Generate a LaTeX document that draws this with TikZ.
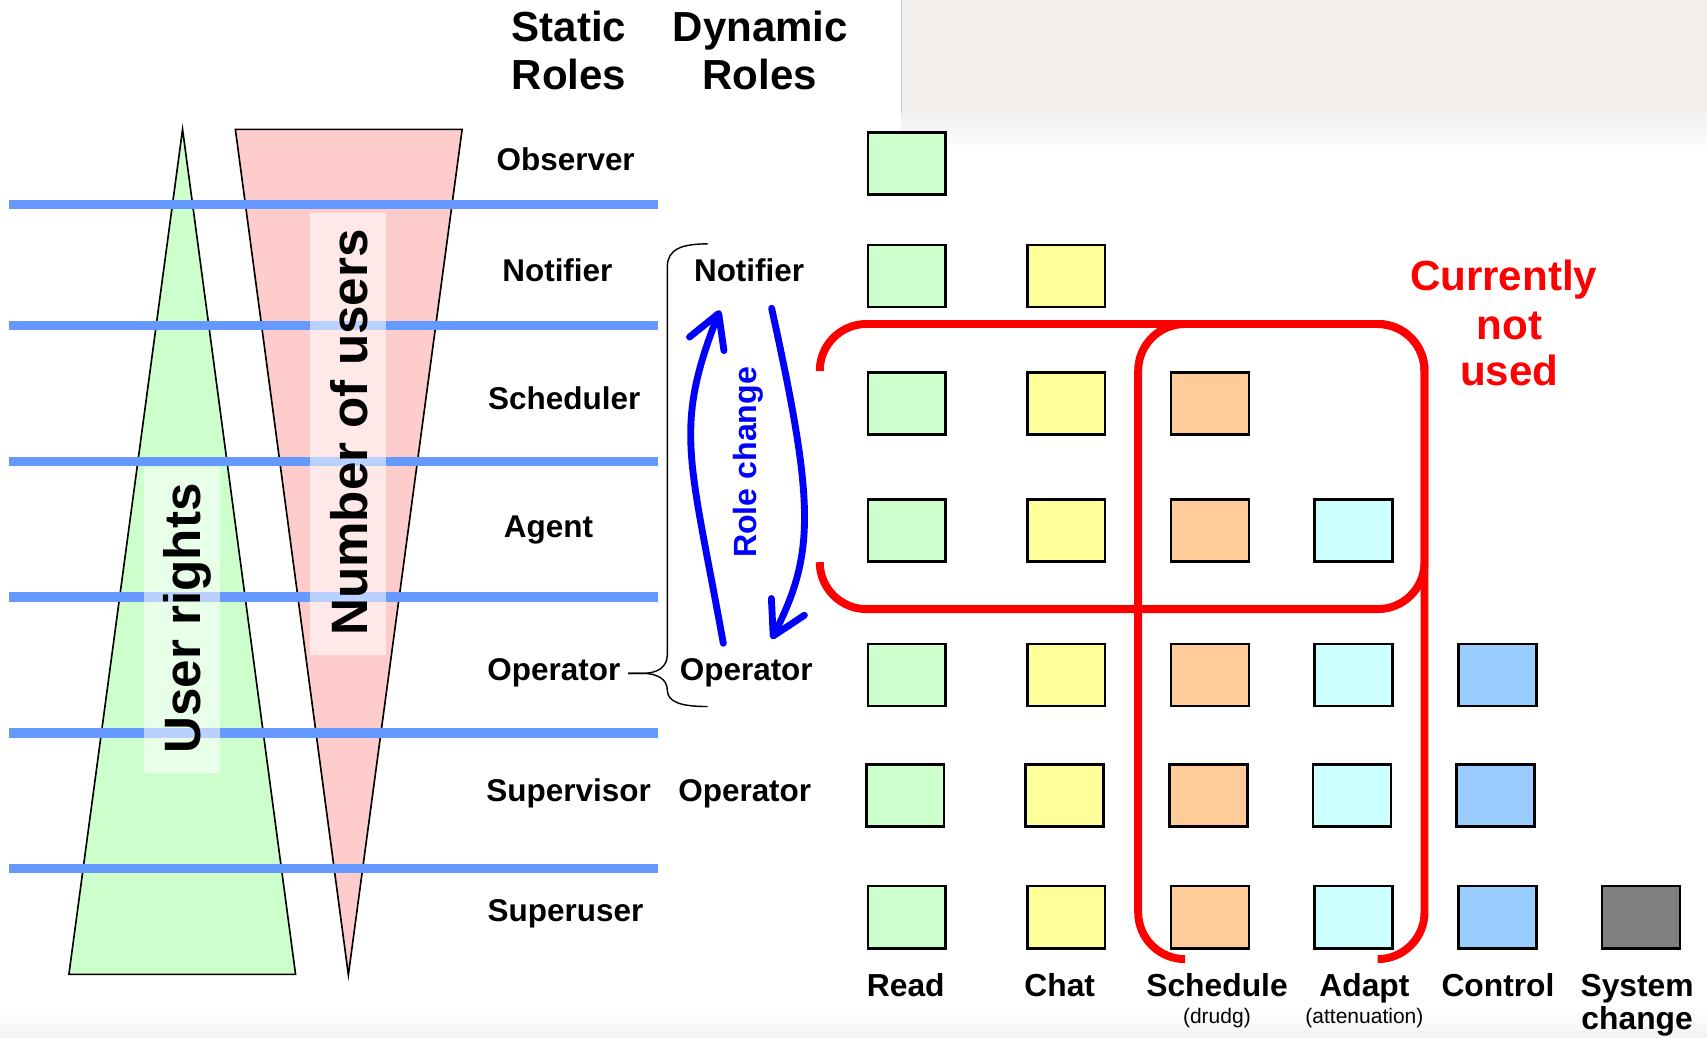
\documentclass[tikz,border=0pt]{standalone}
\usepackage{fontspec}
\setmainfont{Liberation Sans}
\usetikzlibrary{arrows.meta}
\definecolor{cgreen}{RGB}{204,255,204}
\definecolor{cyellow}{RGB}{255,255,153}
\definecolor{corange}{RGB}{255,204,153}
\definecolor{ccyan}{RGB}{204,255,255}
\definecolor{cblue}{RGB}{153,204,255}
\definecolor{cgray}{RGB}{128,128,128}
\definecolor{pinkfill}{RGB}{255,204,204}
\definecolor{linblue}{RGB}{102,153,255}
\definecolor{bggray}{RGB}{242,239,237}
\definecolor{bgedge}{RGB}{205,205,205}
\definecolor{bgbottom}{RGB}{242,244,242}
\tikzset{
  rolelbl/.style={font=\fontsize{28.9}{34}\selectfont\bfseries, anchor=base, inner sep=0pt},
  headlbl/.style={font=\fontsize{38.6}{44}\selectfont\bfseries, anchor=base, inner sep=0pt},
  collbl/.style={font=\fontsize{29.2}{34}\selectfont\bfseries, anchor=base, inner sep=0pt},
  sublbl/.style={font=\fontsize{19.3}{22}\selectfont, anchor=base, inner sep=0pt},
  redlbl/.style={font=\fontsize{38.7}{44}\selectfont\bfseries, anchor=base, inner sep=0pt, text=red},
  bigrot/.style={font=\fontsize{47}{52}\selectfont\bfseries, anchor=base, rotate=90, inner sep=0pt},
  bluerot/.style={font=\fontsize{29.5}{34}\selectfont\bfseries, anchor=base, rotate=90, inner sep=0pt, text=blue},
  sq/.style={draw=black, line width=2.4pt, minimum width=71.5pt, minimum height=57pt, inner sep=0pt},
  sepline/.style={line width=8.5pt, draw=linblue},
  band/.style={fill=white, fill opacity=0.55},
  tri/.style={draw=black, line width=1.5pt, line join=miter},
  redframe/.style={draw=red, line width=7.3pt, rounded corners=43pt},
  rolearrow/.style={draw=blue, line width=6.3pt, line cap=round, -{Straight Barb[length=30pt,width=34pt,round]}},
  bracepath/.style={draw=black, line width=1.3pt},
}
\begin{document}
\begin{tikzpicture}[x=1pt,y=-1pt]
\useasboundingbox (0,0) rectangle (1568,953);
% background
\fill[white] (0,0) rectangle (1568,953);
\fill[bggray] (828,0) rectangle (1568,102);
\shade[top color=bggray, bottom color=white] (828,102) rectangle (1568,140);
\draw[bgedge, line width=1pt] (828,0) -- (828,104);
\shade[top color=white, bottom color=bgbottom] (0,925) rectangle (1568,953);

% triangles
\fill[cgreen] (167.7,118.8) -- (271.5,895) -- (63.3,895) -- cycle;
\draw[tri] (167.7,118.8) -- (271.5,895) -- (63.3,895) -- cycle;
\fill[pinkfill] (216.2,118.8) -- (424.5,118.8) -- (320,895.5) -- cycle;
\draw[tri] (216.2,118.8) -- (424.5,118.8) -- (320,895.5) -- cycle;

% separator lines
\foreach \yy in {188,299,424,548.4,673.2,798}
  \draw[sepline] (8.4,\yy) -- (604.3,\yy);

% text bands
\fill[band] (284.7,195.4) rectangle (354.5,601.6);
\fill[band] (132,429) rectangle (202,710);
\node[bigrot] (nusers) at (337.4,397.3) {Number of users};
\node[bigrot] (urights) at (184.6,568) {User rights};

% headers
\node[headlbl] (hstatic) at (522.8,38.3) {Static};
\node[headlbl] (hstaticb) at (522.8,82) {Roles};
\node[headlbl] (hdyn) at (698.4,38.3) {Dynamic};
\node[headlbl] (hdynb) at (697.9,82) {Roles};

% static roles
\node[rolelbl] (obs) at (519.6,156.8) {Observer};
\node[rolelbl] (notS) at (512,258.7) {Notifier};
\node[rolelbl] (sch) at (518.3,376) {Scheduler};
\node[rolelbl] (agt) at (503.8,493.9) {Agent};
\node[rolelbl] (opS) at (508.8,625.3) {Operator};
\node[rolelbl] (sup) at (522.3,735.9) {Supervisor};
\node[rolelbl] (su) at (519.4,846.2) {Superuser};
% dynamic roles
\node[rolelbl] (notD) at (688.1,258.7) {Notifier};
\node[rolelbl] (opD) at (685.5,625.3) {Operator};
\node[rolelbl] (opD2) at (684.1,735.9) {Operator};

% brace
\coordinate (btop) at (650,224);
\coordinate (btip) at (577,618.5);
\coordinate (bbot) at (650,649);
\draw[bracepath] (btop) .. controls (626,224) and (613,229) .. (613,245)
  -- (613,601) .. controls (613,613) and (604,618.5) .. (590,618.5) -- (btip);
\draw[bracepath] (btip) -- (590,618.5) .. controls (604,618.5) and (613,624) .. (613,634)
  .. controls (613,645) and (626,649) .. (bbot);

% role change arrows
\coordinate (upS) at (664.4,590.9);
\coordinate (upE) at (661.3,285);
\coordinate (dnS) at (708.8,283.2);
\coordinate (dnE) at (708.8,587);
\draw[rolearrow] (upS) .. controls (633.8,420.9) and (618.4,394.1) .. (upE);
\draw[rolearrow] (dnS) .. controls (748.4,463.2) and (748.8,507.9) .. (dnE);
\node[bluerot] (rc) at (695,424.8) {Role change};

% squares
\foreach \r/\yy/\n/\dx in {1/150/1/0, 2/253.5/2/0, 3/370.5/3/0, 4/487.5/4/0, 5/620/5/0, 6/730.5/5/-1.5, 7/842.5/6/0} {
  \foreach \c/\xx/\col in {1/833/cgreen, 2/979.3/cyellow, 3/1111.4/corange, 4/1243.3/ccyan, 5/1375.4/cblue, 6/1507.3/cgray} {
    \ifnum\c>\n\relax\else
      \node[sq, fill=\col] (sq\r-\c) at (\xx+\dx,\yy) {};
    \fi
  }
}

% column labels
\node[collbl] (cread) at (832,915.5) {Read};
\node[collbl] (cchat) at (973.4,915.5) {Chat};
\node[collbl] (csched) at (1117.9,915.5) {Schedule};
\node[collbl] (cadapt) at (1253.3,915.5) {Adapt};
\node[collbl] (cctrl) at (1376,915.5) {Control};
\node[collbl] (csys) at (1503.8,915.5) {System};
\node[collbl] (csysb) at (1503.8,946) {change};
\node[sublbl] (cdrudg) at (1117.8,940) {(drudg)};
\node[sublbl] (catt) at (1253.3,940) {(attenuation)};

% red frames
\draw[redframe] (753,341) -- (753,297.6) -- (1308.5,297.6) -- (1308.5,559.5) -- (753,559.5) -- (753,517);
\draw[redframe] (1088,881) -- (1045.5,881) -- (1045.5,297.6) -- (1308.5,297.6) -- (1308.5,881) -- (1266,881);

% red label
\node[redlbl] (cur1) at (1381.2,266.8) {Currently};
\node[redlbl] (cur2) at (1386.7,311.5) {not};
\node[redlbl] (cur3) at (1386.4,354) {used};
\end{tikzpicture}
\end{document}
